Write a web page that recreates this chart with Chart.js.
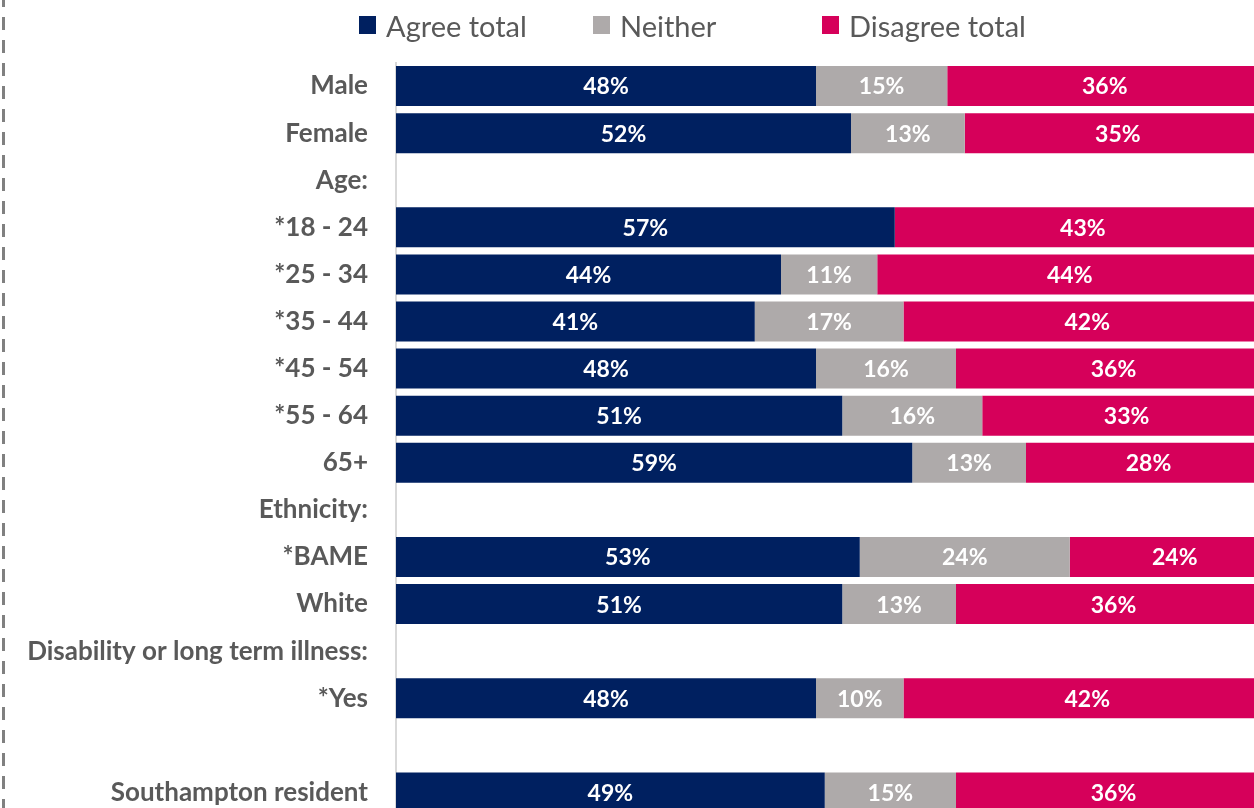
<!DOCTYPE html>
<html>
<head>
<meta charset="utf-8">
<title>Agree / disagree by group</title>
<script src="https://cdn.jsdelivr.net/npm/chart.js@4.4.0/dist/chart.umd.min.js"></script>
<style>
  html, body { margin: 0; padding: 0; background: #fff; overflow: hidden; }
  #wrap { position: relative; width: 1254px; height: 808px; overflow: hidden; }
  #myChart { position: absolute; left: 0; top: 0; }
  #legend { position: absolute; left: 359px; top: 8px; display: flex; margin: 0; padding: 0; list-style: none;
    font-family: Lato, sans-serif; font-size: 29px; color: #595959; }
  #legend li { height: 34px; display: flex; align-items: center; white-space: nowrap; }
  #legend li:nth-child(1) { width: 234px; }
  #legend li:nth-child(2) { width: 229px; }
  #legend span { display: inline-block; width: 17px; height: 18px; margin-right: 10px; }
</style>
</head>
<body>
<div id="wrap">
  <canvas id="myChart" width="1271" height="816"></canvas>
  <ul id="legend"></ul>
</div>
<script>
'use strict';

// rows of the chart, blank rows are the section headings
let groups = ['Male', 'Female', 'Age:', '*18 - 24', '*25 - 34', '*35 - 44', '*45 - 54', '*55 - 64', '65+',
  'Ethnicity:', '*BAME', 'White', 'Disability or long term illness:', '*Yes', '', 'Southampton resident'];

let agreeTotal = [48, 52, null, 57, 44, 41, 48, 51, 59, null, 53, 51, null, 48, null, 49];
let neither = [15, 13, null, null, 11, 17, 16, 16, 13, null, 24, 13, null, 10, null, 15];
let disagreeTotal = [36, 35, null, 43, 44, 42, 36, 33, 28, null, 24, 36, null, 42, null, 36];

let seriesNames = ['Agree total', 'Neither', 'Disagree total'];
let seriesColors = ['#002060', '#AEAAAA', '#D6005A'];

// percentages written in the middle of each segment
const barLabels = {
  id: 'barLabels',
  afterDatasetsDraw(chart) {
    let ctx = chart.ctx;
    ctx.save();
    ctx.font = 'bold 23px Lato';
    ctx.fillStyle = '#ffffff';
    ctx.textAlign = 'center';
    ctx.textBaseline = 'middle';
    chart.data.datasets.forEach((ds, i) => {
      chart.getDatasetMeta(i).data.forEach((bar, j) => {
        let v = ds.data[j];
        if (!v) {
          return;
        }
        let p = bar.getCenterPoint();
        ctx.fillText(v + '%', p.x, p.y + 1);
      });
    });
    ctx.restore();
  }
};

// dashed frame on the left side
const frameLine = {
  id: 'frameLine',
  beforeDraw(chart) {
    let ctx = chart.ctx;
    ctx.save();
    ctx.strokeStyle = '#808080';
    ctx.lineWidth = 3;
    ctx.setLineDash([13, 10]);
    ctx.lineDashOffset = 6;
    ctx.beginPath();
    ctx.moveTo(3.5, 0);
    ctx.lineTo(3.5, chart.height);
    ctx.stroke();
    ctx.restore();
  }
};

// legend as html so the entries sit in even slots
const htmlLegend = {
  id: 'htmlLegend',
  afterUpdate(chart) {
    let ul = document.getElementById('legend');
    ul.innerHTML = '';
    let items = chart.options.plugins.legend.labels.generateLabels(chart);
    items.forEach(item => {
      let li = document.createElement('li');
      let box = document.createElement('span');
      box.style.background = item.fillStyle;
      li.appendChild(box);
      li.appendChild(document.createTextNode(item.text));
      ul.appendChild(li);
    });
  }
};

let datasets = [agreeTotal, neither, disagreeTotal].map((values, i) => ({
  label: seriesNames[i],
  data: values,
  backgroundColor: seriesColors[i],
  borderWidth: 0,
  barPercentage: 0.85,
  categoryPercentage: 1
}));

let ctx = document.getElementById('myChart').getContext('2d');
new Chart(ctx, { // eslint-disable-line
  type: 'bar',
  data: {
    labels: groups,
    datasets: datasets
  },
  options: {
    indexAxis: 'y',
    responsive: false,
    animation: false,
    layout: {
      padding: { top: 62.5, right: 0, bottom: 0, left: 0 }
    },
    scales: {
      x: {
        stacked: true,
        display: false,
        min: 0,
        max: 100
      },
      y: {
        stacked: true,
        grid: { display: false, drawTicks: false },
        border: { display: true, color: '#d9d9d9', width: 2 },
        ticks: {
          color: '#595959',
          padding: 28,
          font: { family: 'Lato', weight: 'bold', size: 26 }
        },
        afterFit(scale) {
          // fixed label column, no extra room above/below the rows
          scale.width = 396;
          scale.paddingTop = 0;
          scale.paddingBottom = 0;
        }
      }
    },
    plugins: {
      legend: { display: false },
      tooltip: { enabled: false }
    }
  },
  plugins: [barLabels, frameLine, htmlLegend]
});
</script>
</body>
</html>
